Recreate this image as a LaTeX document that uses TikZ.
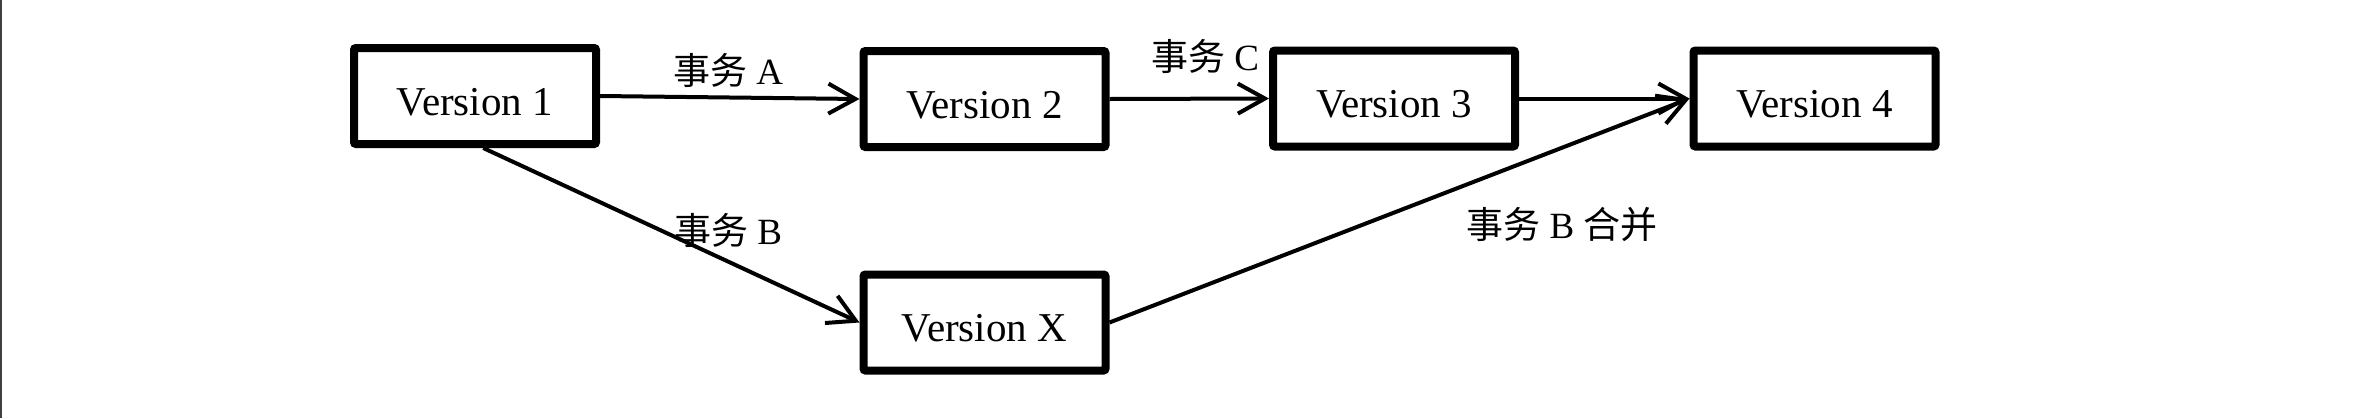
\documentclass[tikz,border=0pt]{standalone}
\usepackage{fontspec}
\setmainfont{Liberation Serif}
\newfontfamily\cjk{Noto Sans CJK SC}
\usetikzlibrary{arrows.meta}
\begin{document}
\begin{tikzpicture}[x=1pt,y=-1pt,
  verbox/.style={draw=black, line width=8pt, rounded corners=2pt, fill=white,
    minimum width=242pt, minimum height=96pt, inner sep=0pt,
    text height=38pt, text depth=0pt,
    font=\fontsize{41}{49}\selectfont},
  conn/.style={draw=black, line width=4pt,
    -{Straight Barb[length=27pt,width=30pt]}},
  lbl/.style={inner sep=0pt, font=\fontsize{37}{44}\selectfont}]
\useasboundingbox (0,0) rectangle (2366,418);
\fill[white] (0,0) rectangle (2366,418);
\coordinate (bt) at (1,0);
\coordinate (bb) at (1,418);
\draw[line width=2.5pt, color=black!75] (bt) -- (bb);

\node[verbox] (v1) at (475,96) {Version 1};
\node[verbox] (v2) at (984.5,99) {Version 2};
\node[verbox] (v3) at (1394,98.5) {Version 3};
\node[verbox] (v4) at (1814.5,98.5) {Version 4};
\node[verbox] (vx) at (984.5,322.5) {Version X};

\draw[conn] (v1.east) -- (v2.west);
\draw[conn] (v2.east) -- (v3.west);
\draw[conn] (v3.east) -- (v4.west);
\draw[conn] (v1.-81) -- (vx.west);
\draw[conn] (vx.east) -- (v4.west);

\node[lbl] (la) at (728,70) {{\cjk 事务} A};
\node[lbl] (lc) at (1205,56) {{\cjk 事务} C};
\node[lbl] (lb) at (728,230) {{\cjk 事务} B};
\node[lbl] (lm) at (1562,225) {{\cjk 事务} B {\cjk 合并}};
\end{tikzpicture}
\end{document}
